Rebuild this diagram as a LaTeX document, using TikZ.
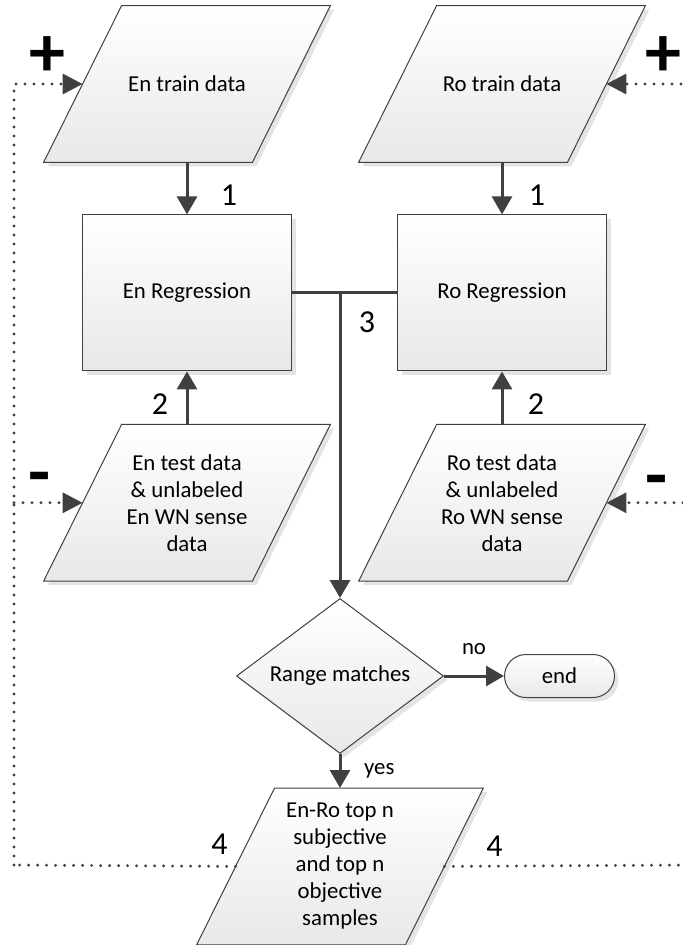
\documentclass[tikz,border=0pt]{standalone}
\usepackage{fontspec}
\setmainfont{Carlito}
\usetikzlibrary{arrows.meta, positioning, shapes.geometric, shadows, calc, backgrounds}
\definecolor{CLine}{HTML}{404040}
\definecolor{CShade}{HTML}{E4E4E4}
\tikzset{
    flatshade/.style={
        draw=CLine,
        top color=white,
        bottom color=black!9,
        line width=0.5pt,
        drop shadow={shadow xshift=2pt, shadow yshift=-2pt, fill=CShade, opacity=1}
    },
    iobox/.style={
        rectangle,
        minimum width=104pt,
        minimum height=78pt,
        inner sep=0pt,
        align=center,
        font=\fontsize{11.4}{13.5}\selectfont
    },
    procbox/.style={
        flatshade,
        rectangle,
        minimum width=104.5pt,
        minimum height=78pt,
        align=center,
        font=\fontsize{11.4}{13.5}\selectfont
    },
    decision/.style={
        flatshade,
        diamond,
        aspect=1.34,
        minimum width=103.5pt,
        minimum height=77.5pt,
        inner sep=0pt,
        align=center,
        font=\fontsize{11.4}{13.5}\selectfont
    },
    terminal/.style={
        flatshade,
        rectangle,
        rounded corners=10.75pt,
        minimum width=55pt,
        minimum height=21.5pt,
        font=\fontsize{11.4}{13.5}\selectfont
    },
    flowarrow/.style={
        -{Triangle[length=9pt, width=10pt]},
        draw=CLine,
        line width=1.5pt
    },
    plainline/.style={
        draw=CLine,
        line width=1.5pt
    },
    loopline/.style={
        draw=CLine,
        line width=1.6pt,
        line cap=round,
        dash pattern=on 0pt off 4.5pt
    },
    looparrow/.style={
        loopline,
        -{Triangle[length=10pt, width=10pt]}
    },
    num/.style={
        font=\fontsize{16}{18}\selectfont
    },
    lbl/.style={
        font=\fontsize{11.4}{13.5}\selectfont
    },
    sign/.style={
        font=\fontsize{36}{36}\selectfont\bfseries
    }
}
% slanted data box behind an iobox node
\newcommand{\slantbox}[1]{%
    \begin{scope}[on background layer]
        \draw[flatshade] ([xshift=19.5pt]#1.north west) -- ([xshift=19.5pt]#1.north east)
            -- ([xshift=-19.5pt]#1.south east) -- ([xshift=-19.5pt]#1.south west) -- cycle;
    \end{scope}}

\begin{document}
\begin{tikzpicture}[x=0.5pt, y=0.5pt]
    \useasboundingbox (0,0) rectangle (682,-945);

    % Nodes
    \node[iobox] (entrain) at (187,-84) {En train data};
    \node[procbox, below=26pt of entrain] (enreg) {En Regression};
    \node[iobox, below=26.5pt of enreg] (entest) {En test data\\\& unlabeled\\En WN sense\\data};

    \node[iobox] (rotrain) at (502,-84) {Ro train data};
    \node[procbox, below=26pt of rotrain] (roreg) {Ro Regression};
    \node[iobox, below=26.5pt of roreg] (rotest) {Ro test data\\\& unlabeled\\Ro WN sense\\data};

    \node[decision] (range) at (340,-676) {Range matches};
    \node[terminal, right=30pt of range] (stop) {end};
    \node[iobox, below=17pt of range] (enro) {En-Ro top n\\subjective\\and top n\\objective\\samples};

    \slantbox{entrain}
    \slantbox{entest}
    \slantbox{rotrain}
    \slantbox{rotest}
    \slantbox{enro}

    \coordinate (jn) at (range.north |- enreg.east);
    \coordinate (loopL) at (14,-865);
    \coordinate (loopR) at (692,-865);

    % Paths
    \draw[flowarrow] (entrain.south) -- node[num, pos=0.63, xshift=21pt] {1} (enreg.north);
    \draw[flowarrow] (rotrain.south) -- node[num, pos=0.63, xshift=17.5pt] {1} (roreg.north);

    \draw[flowarrow] (entest.north) -- node[num, pos=0.38, xshift=-13.5pt] {2} (enreg.south);
    \draw[flowarrow] (rotest.north) -- node[num, pos=0.38, xshift=17pt] {2} (roreg.south);

    \draw[plainline] (enreg.east) -- (roreg.west);
    \draw[flowarrow] (jn) -- node[num, pos=0.095, xshift=13.5pt] {3} (range.north);

    \draw[flowarrow] (range.east) -- node[lbl, above=6.5pt] {no} (stop.west);
    \draw[flowarrow] (range.south) -- node[lbl, right=8pt] {yes} (enro.north);

    % feedback loops
    \draw[loopline] (enro.west) -- (loopL);
    \draw[looparrow] (loopL) |- (entrain.west);
    \draw[looparrow] (loopL |- entest.west) -- (entest.west);

    \draw[loopline] (enro.east) -- (loopR);
    \draw[looparrow] (loopR) |- (rotrain.east);
    \draw[looparrow] (loopR |- rotest.east) -- (rotest.east);

    \node[num] (fourL) at ($(enro.west)+(-16,22)$) {4};
    \node[num] (fourR) at ($(enro.east)+(50,20)$) {4};
    \node[sign] (plusL) at ($(entrain.west)+(-35,27)$) {+};
    \node[sign] (plusR) at ($(rotrain.east)+(57,27)$) {+};
    \node[sign] (minusL) at ($(entest.west)+(-43,18)$) {-};
    \node[sign] (minusR) at ($(rotest.east)+(50,15)$) {-};

\end{tikzpicture}
\end{document}
